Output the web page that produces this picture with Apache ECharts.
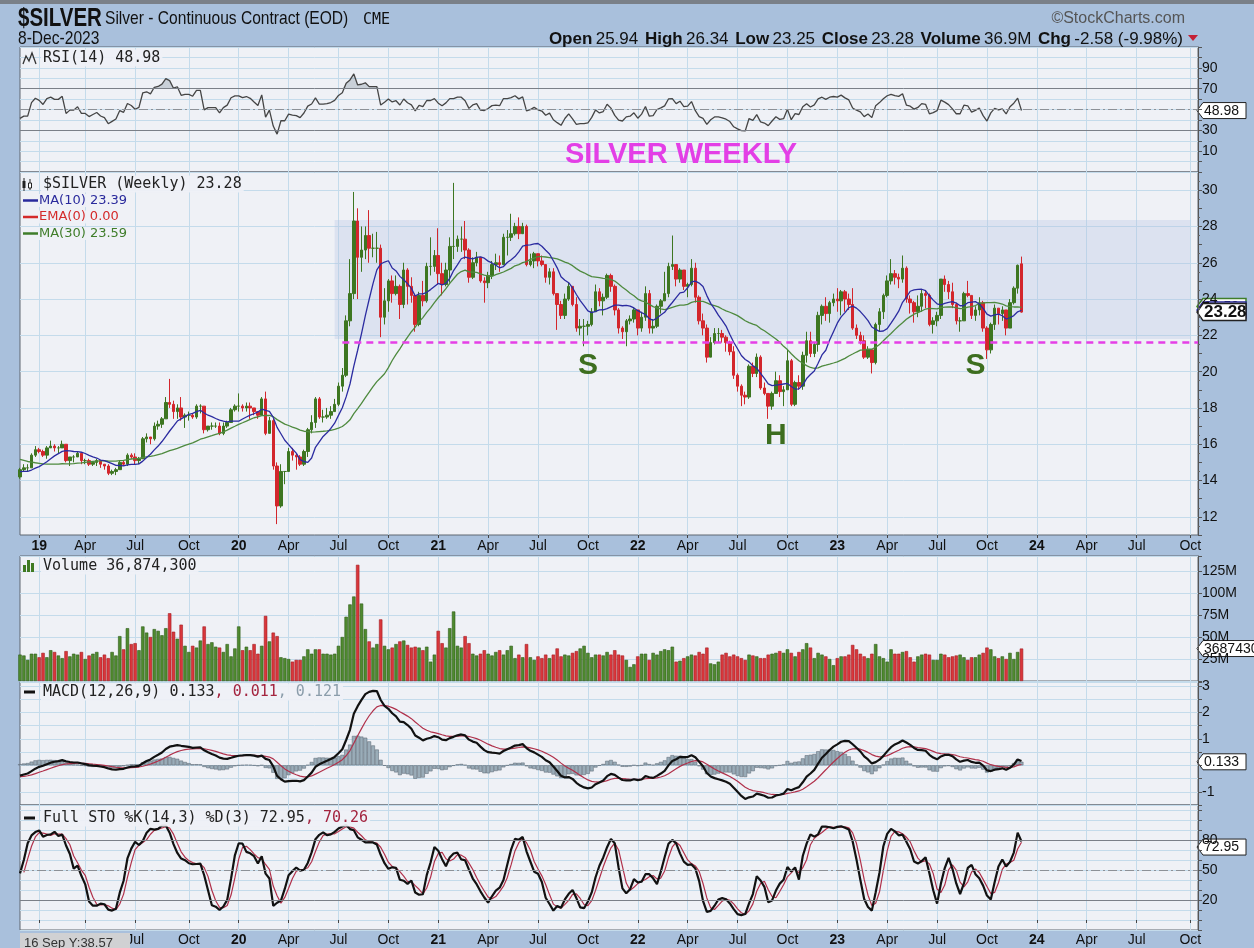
<!DOCTYPE html>
<html><head><meta charset="utf-8">
<script src="https://cdn.jsdelivr.net/npm/echarts@6/dist/echarts.min.js"></script>
<style>html,body{margin:0;padding:0;background:#a9c0dc;}#c{width:1254px;height:948px;}</style>
</head><body><div id="c"></div><script>
// ---------- data (weekly, 2018-12-07 .. 2023-12-08) ----------
const startDate = '2018-12-07';
const axisEndDate = '2024-10-25';
const opens = [14.2,14.6,14.7,14.7,15.4,15.7,15.6,15.4,15.8,15.9,15.8,15.8,16.0,15.1,15.3,15.3,15.5,15.1,15.1,14.9,15.0,15.1,14.9,14.8,14.4,14.5,14.6,15.0,14.9,15.4,15.3,15.1,15.2,16.3,16.4,16.3,17.0,17.1,17.4,18.3,18.2,17.8,18.0,17.5,17.6,17.6,17.5,18.1,18.1,16.8,17.0,17.0,17.0,16.6,17.0,17.2,
17.9,18.1,18.1,18.0,18.1,18.0,17.8,17.6,18.5,16.6,17.3,14.8,12.6,14.5,14.5,15.6,15.4,15.3,14.9,15.6,16.8,17.2,18.5,17.5,17.5,17.6,17.8,18.2,19.2,19.8,22.8,24.3,28.3,26.3,26.7,27.5,26.8,26.8,26.8,23.0,23.9,25.0,24.3,24.7,23.7,25.6,24.7,24.2,22.6,24.2,23.9,25.8,
25.8,26.4,25.4,24.8,25.6,26.9,26.9,27.3,27.3,26.7,25.2,26.0,26.3,25.0,24.9,25.3,25.9,26.0,25.9,27.4,27.4,27.6,28.0,27.6,28.0,25.9,26.1,26.5,26.1,25.9,25.2,25.5,24.3,23.7,23.1,24.0,24.7,23.7,22.4,22.5,22.5,22.6,23.3,24.4,23.9,24.1,25.3,24.7,23.4,22.4,22.2,22.8,22.9,
23.4,22.4,23.0,24.3,22.4,22.5,23.6,23.9,24.3,25.8,25.9,25.1,25.6,24.7,24.8,25.7,24.1,22.8,22.4,20.8,21.6,22.1,22.1,21.9,21.6,21.1,19.8,19.2,18.7,18.6,20.3,19.9,20.8,19.1,18.8,18.1,18.8,19.5,18.9,19.0,20.6,18.2,19.4,19.2,20.9,21.7,21.0,21.5,23.1,23.6,23.2,23.8,
24.0,23.9,24.4,24.0,23.7,22.4,22.0,21.7,20.8,21.2,20.5,22.6,23.3,24.2,25.0,25.4,25.2,25.1,25.7,24.0,23.8,23.3,23.6,24.3,24.2,22.6,22.8,23.1,25.1,24.8,24.4,23.7,22.8,22.8,24.3,24.2,23.1,23.4,23.8,22.4,21.2,22.6,23.5,23.2,23.4,22.4,23.8,24.6,25.94];
const highs = [14.7,14.9,14.9,15.5,15.9,15.8,15.7,15.9,16.2,16.0,15.9,16.2,16.0,15.3,15.4,15.6,15.5,15.2,15.2,15.0,15.2,15.1,14.9,14.9,14.6,14.7,15.1,15.1,15.5,15.5,15.5,15.3,16.4,16.6,16.4,17.2,17.3,17.5,18.6,19.6,18.4,18.2,18.6,17.7,17.8,17.7,18.2,18.2,18.1,17.0,17.2,17.2,17.2,17.2,17.3,18.0,
18.2,18.8,18.2,18.3,18.3,18.0,17.8,18.6,18.9,17.5,17.4,15.0,14.9,14.5,15.8,15.8,15.5,15.4,15.7,16.9,17.6,18.6,18.6,17.9,18.0,18.1,18.5,19.4,20.2,23.1,26.2,29.9,29.0,28.0,28.0,28.9,27.6,27.7,27.0,24.6,25.1,25.3,25.3,24.8,26.0,25.7,25.2,24.3,24.4,25.0,26.0,27.4,
26.7,27.9,26.0,26.0,27.4,30.4,27.5,28.0,28.3,26.8,26.3,26.6,26.3,25.2,25.5,26.1,26.5,26.4,27.6,27.8,28.7,28.2,28.5,28.2,28.1,26.5,26.6,26.5,26.4,25.9,25.7,25.7,24.3,23.9,24.3,24.9,24.7,24.1,22.9,22.9,22.8,23.5,24.8,24.6,24.3,25.4,25.4,24.8,23.5,22.5,22.9,23.1,23.5,
23.4,23.3,24.7,24.5,22.9,23.7,24.0,25.5,26.0,27.5,25.9,25.7,25.6,24.9,26.2,26.0,24.2,23.2,22.6,21.9,22.4,22.4,22.3,22.0,21.7,21.4,19.9,19.3,18.9,20.4,20.5,21.0,20.9,19.4,18.8,18.9,20.0,19.8,19.2,21.2,20.7,19.5,19.8,21.1,22.2,22.2,21.6,23.3,23.7,24.1,23.9,24.3,
24.6,24.5,24.5,24.3,24.6,22.6,22.2,22.0,21.4,21.2,22.7,23.5,24.3,25.3,26.2,25.6,25.4,26.4,25.8,24.2,23.9,24.2,24.5,24.5,24.3,23.0,23.3,25.1,25.3,25.0,24.9,23.8,23.0,24.4,25.0,24.2,23.6,24.1,23.9,22.5,22.7,23.7,23.5,23.6,23.4,24.0,24.7,25.9,26.34];
const lows = [14.1,14.5,14.5,14.7,15.3,15.5,15.3,15.2,15.8,15.6,15.5,15.8,15.0,14.8,15.0,15.3,14.9,14.9,14.8,14.8,14.8,14.7,14.6,14.3,14.3,14.3,14.6,14.8,14.8,15.2,14.9,14.9,15.2,16.1,16.0,16.2,16.8,16.9,17.4,18.0,17.4,17.4,17.3,16.9,17.3,17.4,17.4,17.7,16.6,16.7,16.8,16.9,16.5,16.5,16.9,17.2,
17.8,17.8,17.8,17.8,17.4,17.6,17.4,17.6,16.5,16.6,14.6,11.6,12.5,13.8,14.5,15.1,14.6,14.8,14.8,15.3,16.6,16.9,17.4,17.2,17.4,17.4,17.8,18.1,18.9,19.7,22.5,24.0,24.0,25.5,26.2,26.0,26.3,26.0,21.9,22.6,23.3,23.8,24.2,22.9,23.5,23.7,23.8,22.2,22.5,23.6,23.8,25.3,
25.5,24.8,24.2,24.7,24.9,26.2,26.6,26.6,26.2,24.9,25.1,25.8,24.9,23.8,24.6,25.1,25.6,25.5,25.9,26.4,27.2,27.5,27.3,27.6,25.8,25.8,25.7,25.8,25.8,24.9,24.8,24.2,22.3,22.9,22.9,23.9,23.6,22.2,22.0,21.4,22.0,22.5,23.3,23.6,23.1,24.0,24.4,23.1,22.1,21.8,21.4,22.6,22.7,
22.0,22.2,22.8,22.1,22.1,22.4,23.2,23.9,24.1,25.6,24.7,24.9,24.5,24.1,24.7,23.8,22.6,22.0,20.5,20.8,21.5,21.6,21.6,21.1,20.9,19.6,18.9,18.1,18.2,18.5,19.7,19.7,19.0,18.7,17.4,17.9,18.8,18.6,18.1,19.0,18.1,18.1,19.0,19.0,20.5,20.8,20.8,21.1,22.6,22.8,22.7,23.6,
23.3,23.1,23.3,23.4,22.3,21.8,21.5,20.7,20.7,19.9,20.4,22.2,22.9,24.1,24.8,24.8,24.6,24.9,23.8,23.2,22.7,23.0,23.3,23.5,22.5,22.1,22.5,22.9,24.4,24.0,23.5,22.6,22.2,22.8,24.1,22.9,22.8,23.1,22.2,20.7,21.0,22.3,22.6,22.8,22.0,22.4,23.7,24.3,23.25];
const closes = [14.6,14.7,14.7,15.4,15.7,15.6,15.4,15.8,15.9,15.8,15.8,16.0,15.1,15.3,15.3,15.5,15.1,15.1,14.9,15.0,15.1,14.9,14.8,14.4,14.5,14.6,15.0,14.9,15.4,15.3,15.1,15.2,16.3,16.4,16.3,17.0,17.1,17.4,18.3,18.2,17.8,18.0,17.5,17.6,17.6,17.5,18.1,18.1,16.8,17.0,17.0,17.0,16.6,17.0,17.2,17.9,
18.1,18.1,18.0,18.1,18.0,17.8,17.6,18.5,16.6,17.3,14.8,12.6,14.5,14.5,15.6,15.4,15.3,14.9,15.6,16.8,17.2,18.5,17.5,17.5,17.6,17.8,18.2,19.2,19.8,22.8,24.3,28.3,26.3,26.7,27.5,26.8,26.8,26.8,23.0,23.9,25.0,24.3,24.7,23.7,25.6,24.7,24.2,22.6,24.2,23.9,25.8,25.8,
26.4,25.4,24.8,25.6,26.9,26.9,27.3,27.3,26.7,25.2,26.0,26.3,25.0,24.9,25.3,25.9,26.0,25.9,27.4,27.4,27.6,28.0,27.6,28.0,25.9,26.1,26.5,26.1,25.9,25.2,25.5,24.3,23.7,23.1,24.0,24.7,23.7,22.4,22.5,22.5,22.6,23.3,24.4,23.9,24.1,25.3,24.7,23.4,22.4,22.2,22.8,22.9,23.4,
22.4,23.0,24.3,22.4,22.5,23.6,23.9,24.3,25.8,25.9,25.1,25.6,24.7,24.8,25.7,24.1,22.8,22.4,20.8,21.6,22.1,22.1,21.9,21.6,21.1,19.8,19.2,18.7,18.6,20.3,19.9,20.8,19.1,18.8,18.1,18.8,19.5,18.9,19.0,20.6,18.2,19.4,19.2,20.9,21.7,21.0,21.5,23.1,23.6,23.2,23.8,24.0,
23.9,24.4,24.0,23.7,22.4,22.0,21.7,20.8,21.2,20.5,22.6,23.3,24.2,25.0,25.4,25.2,25.1,25.7,24.0,23.8,23.3,23.6,24.3,24.2,22.6,22.8,23.1,25.1,24.8,24.4,23.7,22.8,22.8,24.3,24.2,23.1,23.4,23.8,22.4,21.2,22.6,23.5,23.2,23.4,22.4,23.8,24.6,25.86,23.28];
const volumesM = [30,29,24,31,31,27,32,27,35,33,29,26,34,28,31,30,33,25,29,31,33,27,30,26,33,29,
51,36,60,42,43,35,62,55,50,59,57,52,60,77,56,48,64,40,33,40,38,46,62,42,44,39,38,33,42,28,
37,62,35,39,35,42,31,40,74,45,55,51,27,26,25,22,24,24,28,36,31,36,36,31,31,30,31,40,50,73,87,96,132,88,59,45,38,42,70,40,36,38,42,45,46,41,38,39,38,35,39,22,
30,57,43,38,60,79,40,38,51,43,31,29,31,35,31,29,33,35,30,35,40,26,30,27,42,27,24,28,26,30,26,30,37,28,30,29,32,34,37,40,32,27,30,30,29,33,30,35,30,29,24,16,19,
28,31,31,24,32,30,34,36,35,39,22,23,26,28,30,29,33,31,38,20,19,22,30,32,28,30,28,26,24,30,29,28,26,26,30,31,32,34,32,36,32,28,33,36,43,38,26,32,30,28,25,18,
26,28,28,30,41,36,31,28,26,31,42,28,26,22,36,31,31,33,34,27,22,28,30,31,30,24,24,31,30,27,28,29,30,27,24,27,27,30,32,38,36,28,26,28,25,32,25,33,36.8743];
// history before the first plotted week, used only to warm up the indicators
const warmCloses = [16.5,16.4,16.5,16.4,16.8,16.6,16.4,16.1,16.0,15.8,15.5,15.5,15.4,15.3,14.7,14.8,14.6,14.2,14.1,14.3,14.7,14.6,14.6,14.7,14.7,14.7,14.1,14.4,14.3,14.2];
const warmHighs = [15.2,14.9,14.9,14.6,14.3,14.4,14.8,14.8,14.8,14.9,14.9,14.9,14.8,14.5,14.5,14.4];
const warmLows  = [14.4,14.5,14.5,14.0,13.95,14.1,14.1,14.5,14.3,14.5,14.5,14.4,14.0,13.9,14.2,14.0];
// annotation values
const supportLevel = 21.6;
const boxTop = 28.35, boxBottom = 21.8;
const lastVals = {rsi:48.98, ma10:23.39, ma30:23.59, close:23.28, vol:36.8743, macd:0.133, sto:72.95};

// ---------- categories ----------
const categories = [];
(function(){ let t = Date.parse(startDate+'T00:00:00Z'); const e = Date.parse(axisEndDate+'T00:00:00Z');
  while (t <= e) { categories.push(new Date(t).toISOString().slice(0,10)); t += 7*86400000; } })();
const idxOf = d => categories.indexOf(d);

// ---------- indicators derived from the price data ----------
const W = warmCloses.length;
const allC = warmCloses.concat(closes);
const allH = new Array(W - warmHighs.length).fill(null).concat(warmHighs, highs);
const allL = new Array(W - warmLows.length).fill(null).concat(warmLows, lows);
function sma(src, n){ const out=[]; for(let i=0;i<src.length;i++){ if(i<n-1){out.push(null);continue;} let s=0,ok=true; for(let j=i-n+1;j<=i;j++){ if(src[j]==null){ok=false;break;} s+=src[j]; } out.push(ok? s/n : null);} return out; }
function ema(src, n){ const k=2/(n+1); let e=null; return src.map(v=>{ if(v==null) return null; e = e==null ? v : v*k + e*(1-k); return e; }); }
function rsiCalc(src, n){ const out=[null]; let ag=0, al=0; for(let i=1;i<src.length;i++){ const d=src[i]-src[i-1], g=Math.max(d,0), l=Math.max(-d,0);
  if(i<=n){ ag+=g/n; al+=l/n; out.push(i===n ? 100-100/(1+ag/(al||1e-9)) : null); }
  else { ag=(ag*(n-1)+g)/n; al=(al*(n-1)+l)/n; out.push(100-100/(1+ag/(al||1e-9))); } } return out; }
const ma10 = sma(allC,10).slice(W);
const ma30 = sma(allC,30).slice(W);
const rsi = rsiCalc(allC,14).slice(W);
const e12 = ema(allC,12), e26 = ema(allC,26);
const macdAll = e12.map((v,i)=> v-e26[i]);
const sigAll = ema(macdAll,9);
const macd = macdAll.slice(W), signal = sigAll.slice(W);
const hist = macd.map((v,i)=> v - signal[i]);
const fastK = allC.map((c,i)=>{ if(i<13) return null; const hs=allH.slice(i-13,i+1), ls=allL.slice(i-13,i+1);
  if(hs.some(v=>v==null)) return null; const hh=Math.max(...hs), ll=Math.min(...ls); return hh===ll?50:(c-ll)/(hh-ll)*100; });
const fullK = sma(fastK,3), fullD = sma(fullK,3);
const stoK = fullK.slice(W), stoD = fullD.slice(W);
// overbought / oversold fill bands of the RSI (between the line and 70 / 30)
const rsiHiBase = rsi.map(v=> v==null?null:70), rsiHiFill = rsi.map(v=> v==null?null:Math.max(v-70,0));
const rsiLoBase = rsi.map(v=> v==null?null:Math.min(v,30)), rsiLoFill = rsi.map(v=> v==null?null:30-Math.min(v,30));

// ---------- styling ----------
const SANS = "'Liberation Sans', Arial, sans-serif";
const MONO = "'DejaVu Sans Mono', monospace";
const DV = "'DejaVu Sans', sans-serif";
const PANEL = '#eff1f6', GRIDC = '#c4dbeb', BORDER = '#5e6771';
const UP = '#3d7621', DOWN = '#d3262c';
const LEFT = 20, WIDTH = 1178;
const grids = [{top:47,height:125},{top:172,height:363},{top:556,height:125},{top:682,height:123},{top:805,height:125}];

function isQ(v){ const m=+v.slice(5,7), d=+v.slice(8,10); return (m===1||m===4||m===7||m===10) && d>=5 && d<=11; }
const qInt = (i,v)=> isQ(v);
const MON = {4:'Apr',7:'Jul',10:'Oct'};
function dateFmt(v){ const m=+v.slice(5,7); return m===1 ? '{y|'+v.slice(2,4)+'}' : MON[m]; }
const near = (v, list) => list.some(x=>Math.abs(v-x)<1e-6);

function yAx(k, o){ return Object.assign({
  type:'value', gridIndex:k, position:'right', scale:false,
  axisLine:{show:true, lineStyle:{color:'#555'}},
  axisTick:{show:true, length:4, lineStyle:{color:'#555'}},
  axisLabel:{margin:4, fontSize:14, color:'#111', fontFamily:SANS},
  splitLine:{show:true, lineStyle:{color:GRIDC, width:1}}
}, o); }

const chart = echarts.init(document.getElementById('c'), null, {renderer:'canvas'});
const candleData = opens.map((o,i)=>[o, closes[i], lows[i], highs[i]]);
const volData = volumesM.map((v,i)=>({value:v, itemStyle:{
  color: closes[i] >= opens[i] ? '#4f8a2f' : '#d9363b',
  borderColor: closes[i] >= opens[i] ? '#2e5c17' : '#a51d22', borderWidth:0.6}}));

const legendBg = 'rgba(239,241,246,0.92)';
const graphics = [
  {type:'rect', shape:{x:0,y:0,width:1254,height:4}, style:{fill:'#7a8088'}},
  {type:'text', x:18, y:19, scaleX:0.82, style:{text:'$SILVER', font:'bold 25px '+SANS, fill:'#111', verticalAlign:'middle'}},
  {type:'text', x:105, y:19, scaleX:0.82, style:{text:'Silver - Continuous Contract (EOD)', font:'19px '+SANS, fill:'#111', verticalAlign:'middle'}},
  {type:'text', x:363, y:20, style:{text:'CME', font:'15px '+MONO, fill:'#111', verticalAlign:'middle'}},
  {type:'text', x:18, y:39, scaleX:0.82, style:{text:'8-Dec-2023', font:'19px '+SANS, fill:'#111', verticalAlign:'middle'}},
  {type:'text', x:1185, y:19, style:{text:'\u00A9StockCharts.com', font:'16px '+SANS, fill:'#555', align:'right', verticalAlign:'middle'}},
  {type:'text', x:1183, y:39, style:{text:'{b|Open} {n|25.94}  {b|High} {n|26.34}  {b|Low} {n|23.25}  {b|Close} {n|23.28}  {b|Volume} {n|36.9M}  {b|Chg} {n|-2.58 (-9.98%)}',
    align:'right', verticalAlign:'middle', rich:{b:{font:'bold 17px '+SANS, fill:'#111'}, n:{font:'17px '+SANS, fill:'#111'}}}},
  {type:'polygon', shape:{points:[[1188,35],[1198,35],[1193,41]]}, style:{fill:'#c42035'}},
  // RSI legend
  {type:'polyline', shape:{points:[[23,64],[26,56],[29,61],[32,53],[36,64]]}, style:{stroke:'#333', lineWidth:1.3, fill:null}, z:20},
  {type:'text', x:41, y:58, z:20, style:{text:'RSI(14) 48.98', font:'15px '+MONO, fill:'#222', verticalAlign:'middle', backgroundColor:legendBg, padding:[1,2]}},
  {type:'text', x:681, y:155, z:20, style:{text:'SILVER WEEKLY', font:'bold 29px '+SANS, fill:'#e33fe6', align:'center', verticalAlign:'middle'}},
  // price legend
  {type:'line', shape:{x1:24,y1:178,x2:24,y2:191}, style:{stroke:'#222', lineWidth:1}, z:20},
  {type:'rect', shape:{x:22.5,y:181,width:3,height:7}, style:{fill:'#222'}, z:20},
  {type:'line', shape:{x1:30,y1:179,x2:30,y2:190}, style:{stroke:'#222', lineWidth:1}, z:20},
  {type:'rect', shape:{x:28.5,y:183,width:3,height:5}, style:{fill:'#fff', stroke:'#222', lineWidth:1}, z:20},
  {type:'text', x:41, y:184, z:20, style:{text:'$SILVER (Weekly) 23.28', font:'15px '+MONO, fill:'#222', verticalAlign:'middle', backgroundColor:legendBg, padding:[1,2]}},
  {type:'line', shape:{x1:23,y1:200.5,x2:38,y2:200.5}, style:{stroke:'#2a2a9c', lineWidth:2.5}, z:20},
  {type:'text', x:39, y:200.5, z:20, style:{text:'MA(10) 23.39', font:'13px '+DV, fill:'#2a2a9c', verticalAlign:'middle', backgroundColor:legendBg}},
  {type:'line', shape:{x1:23,y1:217,x2:38,y2:217}, style:{stroke:'#d42a2a', lineWidth:2.5}, z:20},
  {type:'text', x:39, y:217, z:20, style:{text:'EMA(0) 0.00', font:'13px '+DV, fill:'#d42a2a', verticalAlign:'middle', backgroundColor:legendBg}},
  {type:'line', shape:{x1:23,y1:233.5,x2:38,y2:233.5}, style:{stroke:'#3f7d2a', lineWidth:2.5}, z:20},
  {type:'text', x:39, y:233.5, z:20, style:{text:'MA(30) 23.59', font:'13px '+DV, fill:'#3f7d2a', verticalAlign:'middle', backgroundColor:legendBg}},
  // volume legend
  {type:'rect', shape:{x:23,y:565,width:3,height:7}, style:{fill:'#3f7a22'}, z:20},
  {type:'rect', shape:{x:27,y:560,width:3,height:12}, style:{fill:'#3f7a22'}, z:20},
  {type:'rect', shape:{x:31,y:563,width:3,height:9}, style:{fill:'#3f7a22'}, z:20},
  {type:'text', x:41, y:566, z:20, style:{text:'Volume 36,874,300', font:'15px '+MONO, fill:'#222', verticalAlign:'middle', backgroundColor:legendBg, padding:[1,2]}},
  // MACD legend
  {type:'line', shape:{x1:24,y1:692,x2:35,y2:692}, style:{stroke:'#111', lineWidth:3}, z:20},
  {type:'text', x:41, y:692, z:20, style:{text:'{k|MACD(12,26,9) 0.133}{r|, 0.011}{g|, 0.121}', verticalAlign:'middle', backgroundColor:legendBg, padding:[1,2],
    rich:{k:{font:'15px '+MONO, fill:'#222'}, r:{font:'15px '+MONO, fill:'#a3243f'}, g:{font:'15px '+MONO, fill:'#8b9dab'}}}},
  // STO legend
  {type:'line', shape:{x1:24,y1:818,x2:35,y2:818}, style:{stroke:'#111', lineWidth:3}, z:20},
  {type:'text', x:41, y:818, z:20, style:{text:'{k|Full STO %K(14,3) %D(3) 72.95}{r|, 70.26}', verticalAlign:'middle', backgroundColor:legendBg, padding:[1,2],
    rich:{k:{font:'15px '+MONO, fill:'#222'}, r:{font:'15px '+MONO, fill:'#a3243f'}}}},
  // crosshair readout box bottom-left
  {type:'rect', shape:{x:20,y:933,width:110,height:16}, style:{fill:'#d0d1d3'}, z:30},
  {type:'text', x:24, y:943, z:31, style:{text:'16 Sep Y:38.57', font:'13px '+SANS, fill:'#333', verticalAlign:'middle'}}
];

const bandFill = {color:'rgba(120,140,152,0.45)'};
const option = {
  animation:false,
  backgroundColor:'#a9c0dc',
  grid: grids.map(g=>({left:LEFT, width:WIDTH, top:g.top, height:g.height, show:true, backgroundColor:PANEL, borderColor:BORDER, borderWidth:1})),
  xAxis: grids.map((g,k)=>({
    type:'category', gridIndex:k, data:categories, boundaryGap:false,
    axisLine:{show:false},
    axisTick:{show:(k===1||k===4), interval:qInt, length:3, lineStyle:{color:'#444'}},
    axisLabel:{show:(k===1||k===4), interval:qInt, formatter:dateFmt, margin:(k===1?4:3), fontSize:14, fontFamily:SANS, color:'#111',
      rich:{y:{fontWeight:'bold', fontSize:14, fontFamily:SANS, color:'#111'}}},
    splitLine:{show:true, interval:qInt, lineStyle:{color:GRIDC, width:1}}
  })),
  yAxis: [
    yAx(0,{min:-10,max:110,interval:10, axisLabel:{margin:4,fontSize:14,color:'#111',fontFamily:SANS, formatter:v=>near(v,[10,30,70,90])?String(v):''}}),
    yAx(1,{min:11,max:31,interval:1,
      axisLabel:{margin:4,fontSize:14,color:'#111',fontFamily:SANS, formatter:v=>(Math.round(v)%2===0?String(Math.round(v)):'')},
      minorTick:{show:true, splitNumber:2, length:2, lineStyle:{color:'#666'}},
      splitLine:{show:true, lineStyle:{color:['rgba(0,0,0,0)', GRIDC], width:1}}}),
    yAx(2,{min:0,max:142,interval:25, axisLabel:{margin:4,fontSize:14,color:'#111',fontFamily:SANS, formatter:v=>(v>0&&near(v%25,[0])?v+'M':'')}}),
    yAx(3,{min:-1.5,max:3.15,interval:0.5, axisLabel:{margin:4,fontSize:14,color:'#111',fontFamily:SANS, formatter:v=>near(v,[-1,1,2,3])?String(Math.round(v)):''}}),
    yAx(4,{min:-10,max:115,interval:10, axisLabel:{margin:4,fontSize:14,color:'#111',fontFamily:SANS, formatter:v=>near(v,[20,50,80])?String(v):''}})
  ],
  series: [
    {type:'line', xAxisIndex:0, yAxisIndex:0, data:rsiHiBase, stack:'hi', showSymbol:false, lineStyle:{opacity:0}, silent:true},
    {type:'line', xAxisIndex:0, yAxisIndex:0, data:rsiHiFill, stack:'hi', showSymbol:false, lineStyle:{opacity:0}, areaStyle:bandFill, silent:true},
    {type:'line', xAxisIndex:0, yAxisIndex:0, data:rsiLoBase, stack:'lo', showSymbol:false, lineStyle:{opacity:0}, silent:true},
    {type:'line', xAxisIndex:0, yAxisIndex:0, data:rsiLoFill, stack:'lo', showSymbol:false, lineStyle:{opacity:0}, areaStyle:bandFill, silent:true},
    {type:'line', xAxisIndex:0, yAxisIndex:0, data:rsi, showSymbol:false, lineStyle:{color:'#454545', width:1.3},
      markLine:{silent:true, symbol:['none','none'], label:{show:false}, lineStyle:{color:'#7b8088', width:1, type:'solid'},
        data:[{yAxis:70},{yAxis:30},{yAxis:50, lineStyle:{type:[9,3,2,3], color:'#8d9197', width:1}}]}},
    {type:'candlestick', xAxisIndex:1, yAxisIndex:1, data:candleData, barWidth:3,
      itemStyle:{color:UP, color0:DOWN, borderColor:UP, borderColor0:DOWN, borderWidth:1},
      markArea:{silent:true, itemStyle:{color:'rgba(175,192,224,0.30)'},
        data:[[{coord:[idxOf('2020-07-03'), boxTop]},{coord:[idxOf('2024-10-11'), boxBottom]}]]},
      markLine:{silent:true, symbol:['none','none'], label:{show:false}, lineStyle:{color:'#e53fe6', width:2.5, type:[7,5]},
        data:[[{coord:[idxOf('2020-07-17'), supportLevel]},{coord:[categories.length-1, supportLevel]}]]},
      markPoint:{silent:true, symbol:'circle', symbolSize:1, itemStyle:{color:'rgba(0,0,0,0)'},
        label:{show:true, position:'inside', formatter:'{c}', fontSize:30, fontWeight:'bold', fontFamily:SANS, color:'#3d6e1f'},
        data:[{coord:[idxOf('2021-10-08'),20.3], value:'S'},{coord:[idxOf('2022-09-16'),16.45], value:'H'},{coord:[idxOf('2023-09-15'),20.3], value:'S'}]}},
    {type:'line', xAxisIndex:1, yAxisIndex:1, data:ma30, showSymbol:false, lineStyle:{color:'#4e8a3e', width:1.3}},
    {type:'line', xAxisIndex:1, yAxisIndex:1, data:ma10, showSymbol:false, lineStyle:{color:'#2b2ba0', width:1.3}},
    {type:'bar', xAxisIndex:2, yAxisIndex:2, data:volData, barWidth:3.4},
    {type:'bar', xAxisIndex:3, yAxisIndex:3, data:hist, barWidth:3.8, itemStyle:{color:'#9aacb8', borderColor:'#56636e', borderWidth:0.5}},
    {type:'line', xAxisIndex:3, yAxisIndex:3, data:signal, showSymbol:false, lineStyle:{color:'#b0304a', width:1.2}},
    {type:'line', xAxisIndex:3, yAxisIndex:3, data:macd, showSymbol:false, lineStyle:{color:'#111', width:2.2}},
    {type:'line', xAxisIndex:4, yAxisIndex:4, data:stoD, showSymbol:false, lineStyle:{color:'#b0304a', width:1.2},
      markLine:{silent:true, symbol:['none','none'], label:{show:false}, lineStyle:{color:'#7b8088', width:1, type:'solid'},
        data:[{yAxis:80},{yAxis:20},{yAxis:50, lineStyle:{type:[9,3,2,3], color:'#8d9197', width:1}}]}},
    {type:'line', xAxisIndex:4, yAxisIndex:4, data:stoK, showSymbol:false, lineStyle:{color:'#111', width:2.2}}
  ],
  graphic: graphics
};
chart.setOption(option);

// value tags on the right axes, placed from their values
function tag(y, text, o){ o=o||{}; const x0=1197, x1=o.x1||1246, h=o.h||16;
  return {type:'group', z:40, children:[
    {type:'polygon', shape:{points:[[x0,y],[x0+6,y-h/2],[x1,y-h/2],[x1,y+h/2],[x0+6,y+h/2]]}, style:{fill:'#fff', stroke:o.stroke||'#222', lineWidth:o.lw||1}},
    {type:'text', x:x0+7, y:y+0.5, style:{text:text, font:o.font||('14px '+SANS), fill:'#111', verticalAlign:'middle'}}]}; }
const yp = (k,v)=> chart.convertToPixel({yAxisIndex:k}, v);
chart.setOption({graphic: graphics.concat([
  tag(yp(0,lastVals.rsi), '48.98'),
  tag(yp(1,lastVals.ma30), '23.59', {stroke:'#3f7d2a', lw:1.5}),
  tag(yp(1,lastVals.ma10), '23.39', {stroke:'#2a2a9c', lw:1.5}),
  tag(yp(1,lastVals.close), '23.28', {font:'bold 17px '+SANS, h:17, lw:1.5}),
  tag(yp(2,lastVals.vol), '36874300', {x1:1262}),
  tag(yp(3,lastVals.macd), '0.133'),
  tag(yp(4,lastVals.sto), '72.95')
])});
</script></body></html>
